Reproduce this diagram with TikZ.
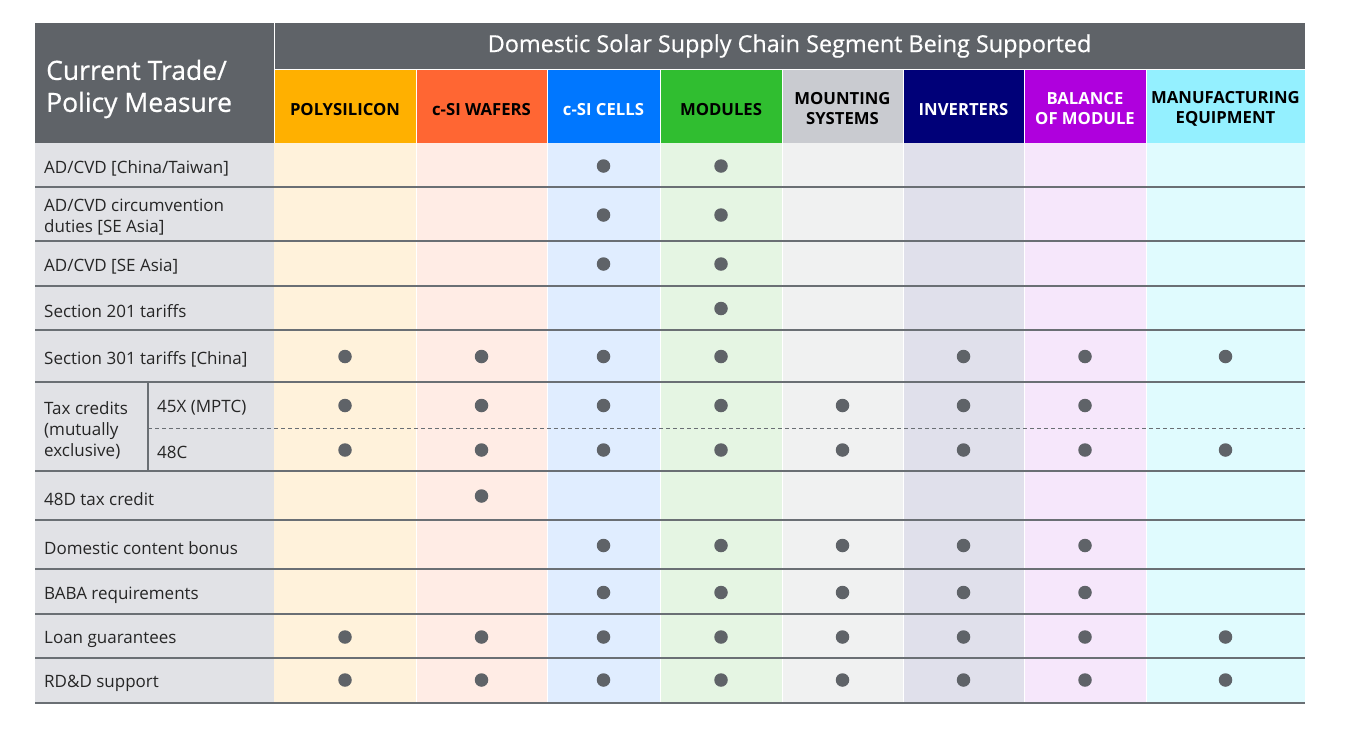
\documentclass[tikz,border=0pt]{standalone}
\usepackage{fontspec}
\setmainfont{Open Sans}
\newfontfamily\titlefont[FakeBold=0.6]{Open Sans}
\definecolor{hdr}{HTML}{5F6368}
\definecolor{rule}{HTML}{6A6F74}
\definecolor{leftbg}{HTML}{E1E2E6}
\definecolor{cA}{HTML}{FFB000}\definecolor{lA}{HTML}{FFF2DB}
\definecolor{cB}{HTML}{FF6633}\definecolor{lB}{HTML}{FFECE5}
\definecolor{cC}{HTML}{0077FF}\definecolor{lC}{HTML}{E0EDFF}
\definecolor{cD}{HTML}{30BE30}\definecolor{lD}{HTML}{E5F5E3}
\definecolor{cE}{HTML}{C9CBD0}\definecolor{lE}{HTML}{F0F1F1}
\definecolor{cF}{HTML}{000078}\definecolor{lF}{HTML}{E0E0EB}
\definecolor{cG}{HTML}{AF00DD}\definecolor{lG}{HTML}{F6E7FB}
\definecolor{cH}{HTML}{94F0FF}\definecolor{lH}{HTML}{E0FBFE}
\tikzset{
  bodytxt/.style={anchor=west,inner sep=0pt,align=left,text=black!85,font=\fontsize{17}{21}\selectfont},
  colhead/.style={inner sep=0pt,align=center,font=\bfseries\fontsize{16.7}{20}\selectfont},
  dotmark/.style={circle,fill=hdr,inner sep=0pt,minimum size=13.5pt},
  rowrule/.style={draw=rule,line width=1.3pt},
  sep/.style={draw=white,line width=1pt}
}
\begin{document}
\begin{tikzpicture}[x=1pt,y=-1pt]
\useasboundingbox (0,0) rectangle (1350,729);
\fill[white] (0,0) rectangle (1350,729);
% body backgrounds
\fill[leftbg] (35,143) rectangle (274,703);
\foreach \xa/\xb/\c in {274/416/lA,416/547/lB,547/660/lC,660/782/lD,782/903/lE,903/1024/lF,1024/1146/lG,1146/1305/lH}
  \fill[\c] (\xa,143) rectangle (\xb,703);
% header
\fill[hdr] (35,23) rectangle (1305,143);
\foreach \xa/\xb/\c in {274/416/cA,416/547/cB,547/660/cC,660/782/cD,782/903/cE,903/1024/cF,1024/1146/cG,1146/1305/cH}
  \fill[\c] (\xa,69) rectangle (\xb,143);
% white separators
\draw[sep] (274,23) -- (274,143);
\draw[sep] (274,69) -- (1305,69);
\foreach \x in {416,547,660,782,903,1024,1146}
  \draw[sep] (\x,69) -- (\x,703);
% row rules
\foreach \y in {187,241,286,330,382,471,520,569,614,658,703}
  \draw[rowrule] (35,\y) -- (1305,\y);
\draw[draw=rule,line width=1.1pt] (148,382) -- (148,471);
\draw[draw=rule,line width=1pt,dash pattern=on 4pt off 3pt] (148,428) -- (1305,428);
% header texts
\node[anchor=west,inner sep=0pt,align=left,text=white,font=\titlefont\fontsize{26.5}{32}\selectfont] (title) at (46,89) {Current Trade/\\Policy Measure};
\node[inner sep=0pt,text=white,font=\titlefont\fontsize{23.4}{26}\selectfont] (dom) at (789.5,46) {Domestic Solar Supply Chain Segment Being Supported};
\node[colhead,text=black] (hA) at (345,109.5) {POLYSILICON};
\node[colhead,text=black] (hB) at (481.5,109.5) {c-SI WAFERS};
\node[colhead,text=white] (hC) at (603.5,109.5) {c-SI CELLS};
\node[colhead,text=black] (hD) at (721,109.5) {MODULES};
\node[colhead,text=black] (hE) at (842.5,109) {MOUNTING\\SYSTEMS};
\node[colhead,text=white] (hF) at (963.5,109.5) {INVERTERS};
\node[colhead,text=white] (hG) at (1085,109) {BALANCE\\OF MODULE};
\node[colhead,text=black] (hH) at (1225.5,109) {MANUFACTURING\\EQUIPMENT};
% row labels
\node[bodytxt] (r1) at (44,168) {AD/CVD [China/Taiwan]};
\node[bodytxt] (r2) at (44,217) {AD/CVD circumvention\\duties [SE Asia]};
\node[bodytxt] (r3) at (44,266.5) {AD/CVD [SE Asia]};
\node[bodytxt] (r4) at (44,311) {Section 201 tariffs};
\node[bodytxt] (r5) at (44,359) {Section 301 tariffs [China]};
\node[bodytxt] (r6) at (44,430) {Tax credits\\(mutually\\exclusive)};
\node[bodytxt] (r6a) at (157,408) {45X (MPTC)};
\node[bodytxt] (r6b) at (157,452) {48C};
\node[bodytxt] (r7) at (44,499) {48D tax credit};
\node[bodytxt] (r8) at (44,548) {Domestic content bonus};
\node[bodytxt] (r9) at (44,595) {BABA requirements};
\node[bodytxt] (r10) at (44,639) {Loan guarantees};
\node[bodytxt] (r11) at (44,683) {RD\&D support};
% dots
\foreach \y/\cols [count=\r] in {
  166/{603.5,721},
  215/{603.5,721},
  264/{603.5,721},
  308.5/{721},
  356.5/{345,481.5,603.5,721,963.5,1085,1225.5},
  405.5/{345,481.5,603.5,721,842.5,963.5,1085},
  450/{345,481.5,603.5,721,842.5,963.5,1085,1225.5},
  496/{481.5},
  545.5/{603.5,721,842.5,963.5,1085},
  592.5/{603.5,721,842.5,963.5,1085},
  637/{345,481.5,603.5,721,842.5,963.5,1085,1225.5},
  680/{345,481.5,603.5,721,842.5,963.5,1085,1225.5}}
  \foreach \x [count=\k] in \cols
    \node[dotmark] (d\r-\k) at (\x,\y) {};
\end{tikzpicture}
\end{document}
